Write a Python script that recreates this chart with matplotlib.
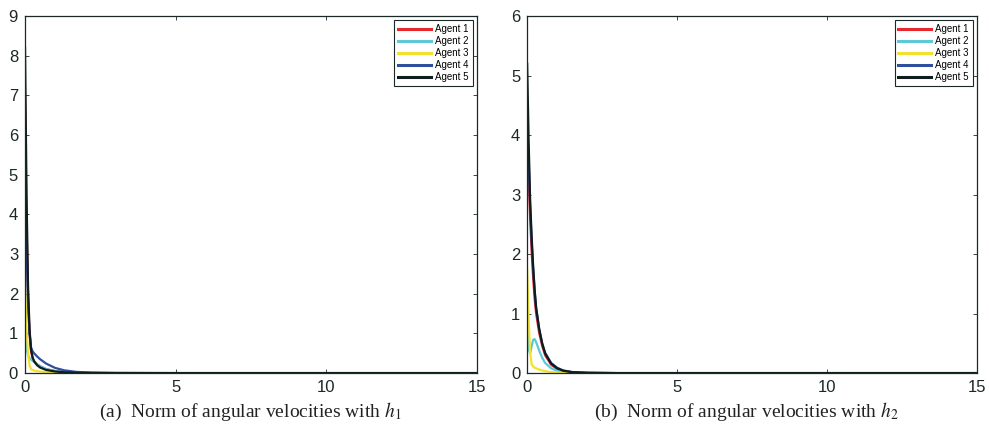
import numpy as np
import matplotlib.pyplot as plt

# agent names and colours
agents = ['Agent 1', 'Agent 2', 'Agent 3', 'Agent 4', 'Agent 5']
colors = ['#e8262b', '#5cc8d8', '#f2e22e', '#2f4e9e', '#0f1c1c']

# (a) with h1
t_a = [0, 0.05, 0.1, 0.15, 0.2, 0.25, 0.3, 0.4, 0.5, 0.7, 1.0, 1.3, 1.7, 2.2, 3.0, 5.0, 15]
w_a = [
    [7.0, 3.8, 1.9, 1.0, 0.55, 0.38, 0.3, 0.22, 0.17, 0.1, 0.05, 0.025, 0.01, 0.004, 0.001, 0, 0],
    [1.0, 0.6, 0.45, 0.38, 0.34, 0.31, 0.28, 0.22, 0.17, 0.1, 0.05, 0.025, 0.01, 0.004, 0.001, 0, 0],
    [2.3, 1.1, 0.5, 0.2, 0.1, 0.08, 0.065, 0.05, 0.04, 0.025, 0.012, 0.006, 0.002, 0.001, 0, 0, 0],
    [4.9, 3.2, 1.8, 1.0, 0.65, 0.55, 0.5, 0.42, 0.35, 0.24, 0.13, 0.07, 0.03, 0.012, 0.003, 0, 0],
    [8.2, 4.5, 2.2, 1.1, 0.6, 0.4, 0.3, 0.2, 0.14, 0.08, 0.04, 0.02, 0.008, 0.003, 0.001, 0, 0],
]

# (b) with h2
t_b = [0, 0.05, 0.1, 0.15, 0.2, 0.25, 0.3, 0.4, 0.5, 0.6, 0.8, 1.0, 1.2, 1.5, 2.0, 3.0, 15]
w_b = [
    [4.0, 3.3, 2.6, 2.05, 1.6, 1.25, 1.0, 0.68, 0.46, 0.3, 0.14, 0.07, 0.035, 0.013, 0.004, 0, 0],
    [0.75, 0.4, 0.33, 0.45, 0.56, 0.57, 0.52, 0.38, 0.26, 0.17, 0.08, 0.04, 0.02, 0.007, 0.002, 0, 0],
    [1.75, 0.9, 0.35, 0.15, 0.11, 0.09, 0.08, 0.06, 0.045, 0.033, 0.017, 0.008, 0.004, 0.001, 0, 0, 0],
    [4.2, 3.6, 2.8, 2.2, 1.75, 1.38, 1.08, 0.74, 0.5, 0.34, 0.17, 0.09, 0.045, 0.018, 0.005, 0, 0],
    [5.2, 3.9, 2.9, 2.3, 1.8, 1.4, 1.1, 0.75, 0.5, 0.33, 0.16, 0.08, 0.04, 0.015, 0.004, 0, 0],
]

captions = ['(a)  Norm of angular velocities with $h_1$',
            '(b)  Norm of angular velocities with $h_2$']

plt.rcParams['font.family'] = ['Liberation Sans', 'DejaVu Sans']
plt.rcParams['mathtext.fontset'] = 'stix'
axcol = '#1c2828'

fig = plt.figure(figsize=(9.89, 4.41), dpi=100)
ax1 = fig.add_axes([0.0253, 0.154, 0.457, 0.8096])
ax2 = fig.add_axes([0.533, 0.154, 0.455, 0.8096])

for ax, t, w, ymax, cap, cx in [(ax1, t_a, w_a, 9, captions[0], 0.253),
                                (ax2, t_b, w_b, 6, captions[1], 0.755)]:
    for i in range(len(agents)):
        ax.plot(t, w[i], color=colors[i], lw=1.6, label=agents[i])
    ax.set_xlim(0, 15)
    ax.set_ylim(0, ymax)
    ax.set_xticks([0, 5, 10, 15])
    ax.set_yticks(range(ymax + 1))
    ax.tick_params(direction='in', top=True, right=True, labelsize=12,
                   colors=axcol, length=3, width=0.6, pad=5)
    for s in ax.spines.values():
        s.set_color(axcol)
        s.set_linewidth(0.9)
    leg = ax.legend(loc='upper right', fontsize=7, handlelength=3.4,
                    borderpad=0.4, labelspacing=0.2, handletextpad=0.4,
                    fancybox=False, framealpha=1, borderaxespad=0.45)
    leg.get_frame().set_edgecolor(axcol)
    leg.get_frame().set_linewidth(0.8)
    for ln in leg.get_lines():
        ln.set_linewidth(2.2)
    fig.text(cx, 0.066, cap, ha='center', va='center', fontsize=14,
             family='Liberation Serif', color='#222222')

fig.savefig('out.png', dpi=100)
